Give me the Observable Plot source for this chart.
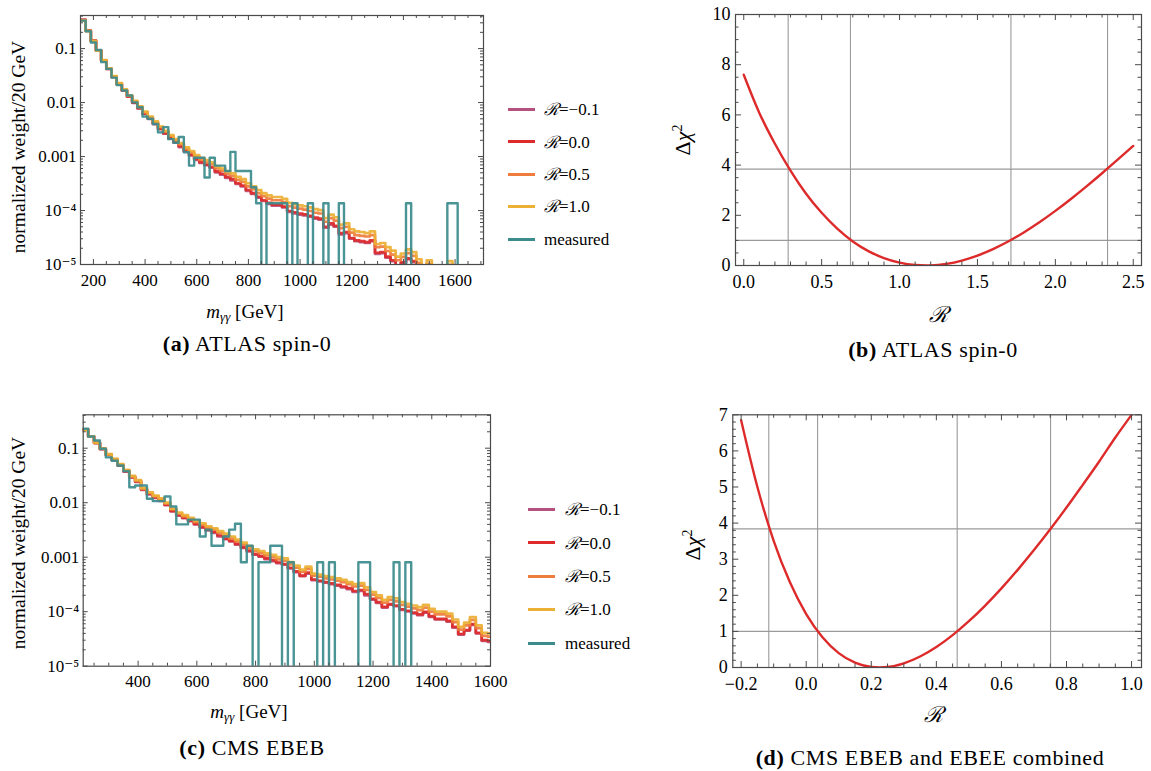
<!DOCTYPE html>
<html><head><meta charset="utf-8">
<script src="https://cdn.jsdelivr.net/npm/d3@7"></script>
<script src="https://cdn.jsdelivr.net/npm/@observablehq/plot@0.6"></script>
<style>
body{margin:0;background:#fff;width:1151px;height:771px;position:relative;overflow:hidden;font-family:"Liberation Serif","DejaVu Serif",serif;color:#000}
.abs{position:absolute;white-space:nowrap;line-height:1}
.c{transform:translate(-50%,-50%)}
.rot{transform:translate(-50%,-50%) rotate(-90deg)}
.cal{font-family:"DejaVu Serif","Liberation Serif",serif;font-style:italic}
.cap{letter-spacing:0.6px}
svg{overflow:visible}
</style></head><body>
<script>
// ---------------- data ----------------
const binWidth = 20;
const atlasEdges = d3.range(150, 1710, 20);   // 150 ... 1690
const cmsEdges = d3.range(210, 1610, 20);     // 210 ... 1590

const atlasRm01 = [0.34,0.215,0.14,0.092,0.060,0.042,0.030,0.0221,0.0167,0.0128,
0.0099,0.0078,0.0062,0.0050,0.0040,0.0032,0.00265,0.00215,0.0018,0.0015,
0.00124,0.00105,0.00087,0.00076,0.00069,0.00062,0.00051,0.00046,0.00040,0.00036,
0.00031,0.00028,0.00023,0.000203,0.000174,0.000150,0.000133,0.000123,0.000123,0.000114,
0.000094,0.000088,0.000084,0.000081,0.000077,0.000071,0.000068,0.000048,0.000055,0.000050,
0.000036,0.000038,0.000030,0.000027,0.000026,0.000025,0.000027,0.0000158,0.0000163,0.0000134,
0.0000115,0.0000091,0.0000105,0.0000125,0.0000110,0.0000081,0.0000057,0.0000079,0.0000048,0.0000043,
0.0000048,0.0000076,0.0000053,0.0000038,0.0000033,0.0000029,0.0000027,0.0000024];
const atlasR00 = [0.34,0.215,0.14,0.092,0.060,0.042,0.030,0.0222,0.0168,0.0129,
0.0100,0.0079,0.0063,0.0051,0.0041,0.0033,0.0027,0.0022,0.00185,0.00155,
0.00128,0.00108,0.00090,0.00079,0.00071,0.00064,0.00053,0.00048,0.00042,0.00038,
0.00032,0.00029,0.00024,0.00021,0.00018,0.000155,0.000138,0.000128,0.000128,0.000118,
0.000098,0.000092,0.000088,0.000085,0.000080,0.000074,0.000071,0.000050,0.000058,0.000052,
0.000038,0.000040,0.000031,0.000028,0.000027,0.000026,0.000028,0.0000165,0.0000170,0.0000140,
0.0000120,0.0000095,0.0000110,0.0000130,0.0000115,0.0000085,0.0000060,0.0000082,0.0000050,0.0000045,
0.0000050,0.0000079,0.0000055,0.0000040,0.0000035,0.0000030,0.0000028,0.0000025];
const atlasR05 = [0.335,0.212,0.139,0.092,0.0605,0.0425,0.0305,0.0226,0.0172,0.0133,
0.0104,0.0082,0.0066,0.0053,0.0043,0.0035,0.0029,0.0024,0.0020,0.00168,
0.00139,0.00118,0.00099,0.00087,0.00079,0.00072,0.00060,0.00055,0.00048,0.00044,
0.00037,0.00034,0.00028,0.00025,0.00021,0.000185,0.000166,0.000155,0.000155,0.000143,
0.000120,0.000113,0.000108,0.000104,0.000098,0.000091,0.000088,0.000062,0.000072,0.000065,
0.000047,0.000050,0.000039,0.000035,0.000034,0.000033,0.000035,0.000021,0.0000215,0.0000178,
0.0000153,0.0000120,0.0000138,0.0000163,0.0000145,0.0000107,0.0000077,0.0000103,0.0000068,0.0000058,
0.0000064,0.0000099,0.0000074,0.0000052,0.0000045,0.0000039,0.0000036,0.0000032];
const atlasR10 = [0.33,0.21,0.138,0.092,0.061,0.043,0.031,0.023,0.0176,0.0136,
0.0107,0.0085,0.0068,0.0055,0.0045,0.0036,0.0030,0.0025,0.0021,0.00178,
0.00148,0.00126,0.00106,0.00094,0.00086,0.00078,0.00066,0.00060,0.00053,0.00049,
0.00042,0.00038,0.00032,0.00028,0.00024,0.00021,0.000190,0.000178,0.000178,0.000165,
0.000138,0.000130,0.000125,0.000120,0.000114,0.000106,0.000102,0.000072,0.000084,0.000075,
0.000055,0.000058,0.000045,0.000041,0.000040,0.000038,0.000041,0.000024,0.000025,0.000021,
0.000018,0.000014,0.000016,0.000019,0.000017,0.0000125,0.0000090,0.0000120,0.0000085,0.0000068,
0.0000075,0.0000115,0.0000090,0.0000060,0.0000052,0.0000045,0.0000042,0.0000038];
const atlasMeasured = [0.33,0.21,0.13,0.094,0.056,0.042,0.029,0.021,0.0167,0.0135,
0.0101,0.0082,0.0055,0.0050,0.0040,0.0028,0.0035,0.0021,0.0018,0.0023,
0.0012,0.00068,0.00095,0.00095,0.00041,0.00095,0.00068,0.00068,0.00054,0.00122,
0.00054,0.00054,0.00054,0.00027,0.000136,0,0.000136,0.000136,0.000136,0.000136,
0,0.000136,0,0,0.000136,0,0,0.000136,0,0,
0.000136,0,0,0,0,0,0,0,0,0,
0,0,0,0.000136,0,0,0,0,0,0,
0,0.000136,0.000136,0,0,0,0,0];

const cmsRm01 = [0.22,0.164,0.124,0.096,0.075,0.061,0.048,0.037,0.029,0.024,
0.0171,0.0142,0.0123,0.0108,0.0090,0.0069,0.0058,0.0052,0.0046,0.0040,
0.0035,0.0031,0.0028,0.0024,0.00215,0.00194,0.0017,0.00148,0.00128,0.00111,
0.00102,0.00092,0.00085,0.00078,0.00073,0.00062,0.00053,0.00045,0.00050,0.00038,
0.00036,0.00034,0.00032,0.00030,0.00028,0.00026,0.00023,0.00024,0.00020,0.000167,
0.000145,0.000119,0.000134,0.000126,0.000108,0.000101,0.000093,0.000086,0.000096,0.000080,
0.000072,0.000072,0.000066,0.000051,0.000038,0.000045,0.000057,0.000040,0.000029,0.000028];
const cmsR00 = [0.22,0.165,0.125,0.097,0.076,0.062,0.049,0.038,0.0295,0.0245,
0.0175,0.0146,0.0126,0.0111,0.0092,0.0071,0.0060,0.0053,0.0047,0.0041,
0.0036,0.0032,0.0029,0.0025,0.0022,0.0020,0.00175,0.00152,0.00132,0.00114,
0.00105,0.00095,0.00088,0.00080,0.00075,0.00064,0.00055,0.00046,0.00052,0.00039,
0.00037,0.00035,0.00033,0.00031,0.00029,0.00027,0.00024,0.00025,0.00021,0.000172,
0.000150,0.000123,0.000138,0.000130,0.000111,0.000104,0.000096,0.000089,0.000099,0.000083,
0.000074,0.000074,0.000068,0.000053,0.000039,0.000046,0.000059,0.000041,0.000030,0.000029];
const cmsR05 = [0.218,0.165,0.1255,0.0975,0.077,0.063,0.050,0.039,0.030,0.0252,
0.0180,0.0151,0.0131,0.0116,0.0096,0.0075,0.0063,0.0056,0.0050,0.0044,
0.0039,0.0035,0.0032,0.0028,0.0025,0.0022,0.00195,0.00170,0.00148,0.00129,
0.00119,0.00108,0.00100,0.00091,0.00086,0.00074,0.00064,0.00054,0.00061,0.00046,
0.00044,0.00041,0.00039,0.00037,0.00035,0.00032,0.00029,0.00030,0.00025,0.000205,
0.000179,0.000147,0.000165,0.000155,0.000133,0.000124,0.000115,0.000107,0.000119,0.000100,
0.000089,0.000089,0.000082,0.000064,0.000047,0.000056,0.000071,0.000050,0.000036,0.000035];
const cmsR10 = [0.215,0.165,0.126,0.098,0.078,0.064,0.051,0.040,0.031,0.026,
0.0185,0.0155,0.0135,0.0120,0.0100,0.0078,0.0066,0.0059,0.0053,0.0047,
0.0042,0.0037,0.0034,0.0030,0.0027,0.0024,0.0021,0.00185,0.0016,0.00140,
0.00130,0.00118,0.00110,0.00100,0.00095,0.00081,0.00070,0.00059,0.00067,0.00050,
0.00048,0.00045,0.00043,0.00041,0.000385,0.00035,0.00032,0.000335,0.00028,0.00023,
0.00020,0.000165,0.000185,0.000175,0.000150,0.000140,0.000130,0.000121,0.000134,0.000113,
0.000100,0.000100,0.000092,0.000072,0.000053,0.000063,0.000080,0.000056,0.000041,0.000040];
const cmsMeasured = [0.227,0.164,0.138,0.0975,0.068,0.059,0.048,0.038,0.0192,0.0207,
0.0207,0.0118,0.0107,0.0107,0.013,0.0085,0.0040,0.0040,0.0049,0.0049,
0.0024,0.0032,0.00162,0.00162,0.0024,0.0032,0.0041,0.00081,0.00162,0,
0.00081,0.00081,0.00162,0.00162,0,0.00081,0,0,0,0,
0.00081,0,0.00081,0,0,0,0,0.00081,0.00081,0,
0,0,0,0.00081,0,0.00081,0,0,0,0,
0,0,0,0,0,0,0,0,0,0];

// Delta chi^2 curves
const atlasChiR = [0.0,0.1,0.2,0.3,0.4,0.5,0.6,0.7,0.8,0.9,1.0,1.1,1.17,1.2,1.3,1.4,1.5,1.6,1.7,1.8,1.9,2.0,2.1,2.2,2.3,2.4,2.5];
const atlasChi  = [7.6,6.08,4.85,3.78,2.86,2.10,1.47,0.96,0.574,0.294,0.112,0.018,0,0.003,0.064,0.197,0.395,0.653,0.965,1.327,1.732,2.176,2.651,3.153,3.676,4.215,4.764];
const atlasCrossR = [0.285,0.685,1.715,2.335];
const cmsChiR = [-0.2,-0.15,-0.1,-0.05,0.0,0.05,0.1,0.15,0.2,0.226,0.25,0.3,0.35,0.4,0.45,0.5,0.55,0.6,0.65,0.7,0.75,0.8,0.85,0.9,0.95,1.0];
const cmsChi  = [6.85,5.0,3.51,2.36,1.48,0.838,0.398,0.133,0.014,0,0.0127,0.114,0.304,0.568,0.897,1.282,1.716,2.192,2.705,3.252,3.828,4.43,5.06,5.70,6.37,7.0];
const cmsCrossR = [-0.115,0.035,0.464,0.751];
const chiLevels = [1, 3.84];

const seriesNames = ["ℛ=−0.1","ℛ=0.0","ℛ=0.5","ℛ=1.0","measured"];
const seriesColors = ["#b5517d","#dd2b2b","#ee7c3c","#ecb034","#3c8b8d"];

// ---------------- helpers ----------------
const FONT = "'Liberation Serif', 'DejaVu Serif', serif";
const FRAME = "#4a4a4a";

function place(node, left, top) {
  const d = document.createElement("div");
  d.style.cssText = `position:absolute;left:${left}px;top:${top}px`;
  d.appendChild(node);
  document.body.appendChild(d);
}
function text(html, x, y, cls, size, extra = "") {
  const d = document.createElement("div");
  d.className = "abs " + cls;
  d.style.cssText = `left:${x}px;top:${y}px;font-size:${size}px;${extra}`;
  d.innerHTML = html;
  document.body.appendChild(d);
}
function steps(edges, values) {
  const pts = edges.map((e, i) => ({x: e, y: values[i] > 0 ? values[i] : 1e-9}));
  const last = pts[pts.length - 1];
  pts.push({x: last.x + binWidth, y: last.y});
  return pts;
}
function frameTicks(W, H, m, xMaj, xMin, yMaj, yMin, maj, min) {
  const fw = W - m.left - m.right, fh = H - m.top - m.bottom;
  const o = {stroke: FRAME, strokeWidth: 1};
  return [
    Plot.tickX(xMaj, {x: d => d, insetTop: fh - maj, ...o}),
    Plot.tickX(xMaj, {x: d => d, insetBottom: fh - maj, ...o}),
    Plot.tickX(xMin, {x: d => d, insetTop: fh - min, ...o}),
    Plot.tickX(xMin, {x: d => d, insetBottom: fh - min, ...o}),
    Plot.tickY(yMaj, {y: d => d, insetRight: fw - maj, ...o}),
    Plot.tickY(yMaj, {y: d => d, insetLeft: fw - maj, ...o}),
    Plot.tickY(yMin, {y: d => d, insetRight: fw - min, ...o}),
    Plot.tickY(yMin, {y: d => d, insetLeft: fw - min, ...o})
  ];
}
const logLabels = {"0.1": "0.1", "0.01": "0.01", "0.001": "0.001", "0.0001": "10⁻⁴", "0.00001": "10⁻⁵"};

function histPanel(edges, series, xDomain, xMaj, xMin, W, H, m) {
  const yTop = 0.41;
  const yMaj = [1e-5, 1e-4, 1e-3, 1e-2, 1e-1];
  const yMin = [];
  for (const p of [1e-5, 1e-4, 1e-3, 1e-2, 1e-1]) for (let k = 2; k <= 9; k++) if (p * k < yTop) yMin.push(p * k);
  const lines = series.map((vals, i) => Plot.line(steps(edges, vals), {
    x: "x", y: "y", curve: "step-after", stroke: seriesColors[i],
    strokeWidth: i === 4 ? 2.4 : 2.7, strokeOpacity: 0.92, clip: true
  }));
  return Plot.plot({
    width: W, height: H,
    marginLeft: m.left, marginRight: m.right, marginTop: m.top, marginBottom: m.bottom,
    x: {domain: xDomain},
    y: {type: "log", domain: [1e-5, yTop]},
    style: {fontFamily: FONT, fontSize: "17px", color: "#000", background: "none", overflow: "visible"},
    marks: [
      ...lines,
      ...frameTicks(W, H, m, xMaj, xMin, yMaj, yMin, 5, 3),
      Plot.frame({stroke: FRAME, strokeWidth: 1.2}),
      Plot.axisX({ticks: xMaj, tickSize: 0, tickPadding: 9, label: null, tickFormat: d => String(d), fontSize: 17}),
      Plot.axisY({ticks: yMaj, tickSize: 0, tickPadding: 4, label: null, tickFormat: d => logLabels[String(d)], fontSize: 17})
    ]
  });
}

function chiPanel(R, chi, cross, xDomain, yDomain, xMaj, xMin, yMaj, yMin, W, H, m, fmtX) {
  return Plot.plot({
    width: W, height: H,
    marginLeft: m.left, marginRight: m.right, marginTop: m.top, marginBottom: m.bottom,
    x: {domain: xDomain},
    y: {domain: yDomain},
    style: {fontFamily: FONT, fontSize: "17px", color: "#000", background: "none", overflow: "visible"},
    marks: [
      Plot.ruleX(cross, {stroke: "#9a9a9a", strokeWidth: 1.1}),
      Plot.ruleY(chiLevels, {stroke: "#9a9a9a", strokeWidth: 1.1}),
      Plot.line(R.map((r, i) => ({r, c: chi[i]})), {x: "r", y: "c", curve: "monotone-x", stroke: "#dd2b2b", strokeWidth: 2.4, clip: true}),
      ...frameTicks(W, H, m, xMaj, xMin, yMaj, yMin, 6, 3.5),
      Plot.frame({stroke: FRAME, strokeWidth: 1.2}),
      Plot.axisX({ticks: xMaj, tickSize: 0, tickPadding: 10, label: null, tickFormat: fmtX, fontSize: 18}),
      Plot.axisY({ticks: yMaj, tickSize: 0, tickPadding: 5, label: null, tickFormat: d => String(d), fontSize: 18})
    ]
  });
}
const near = (a, list) => list.some(b => Math.abs(a - b) < 1e-9);

// ---------------- panel (a) ----------------
{
  const m = {left: 80, right: 7, top: 15, bottom: 31};
  const xMaj = d3.range(200, 1701, 200);
  const xMin = d3.range(200, 1701, 50).filter(v => v % 200 !== 0);
  place(histPanel(atlasEdges, [atlasRm01, atlasR00, atlasR05, atlasR10, atlasMeasured],
    [150, 1710], xMaj, xMin, 490, 295, m), 0, 0);
}
// ---------------- panel (c) ----------------
{
  const m = {left: 82.7, right: 10, top: 24.3, bottom: 29.3};
  const xMaj = d3.range(400, 1601, 200);
  const xMin = d3.range(250, 1600, 50).filter(v => v % 200 !== 0);
  place(histPanel(cmsEdges, [cmsRm01, cmsR00, cmsR05, cmsR10, cmsMeasured],
    [213, 1600], xMaj, xMin, 500, 305, m), 0, 390);
}
// ---------------- panel (b) ----------------
{
  const m = {left: 45, right: 10, top: 14, bottom: 30};
  const xMaj = [0, 0.5, 1, 1.5, 2, 2.5];
  const xMin = d3.range(0, 2.55, 0.1).map(v => +v.toFixed(2)).filter(v => !near(v, xMaj));
  const yMaj = [0, 2, 4, 6, 8, 10];
  const yMin = d3.range(0.5, 10, 0.5).filter(v => !near(v, yMaj));
  place(chiPanel(atlasChiR, atlasChi, atlasCrossR, [-0.053, 2.553], [0, 10], xMaj, xMin, yMaj, yMin,
    461, 295, m, d => d.toFixed(1)), 690, 0);
}
// ---------------- panel (d) ----------------
{
  const m = {left: 42.3, right: 10, top: 24.3, bottom: 28};
  const xMaj = [-0.2, 0, 0.2, 0.4, 0.6, 0.8, 1.0];
  const xMin = d3.range(-0.2, 1.02, 0.05).map(v => +v.toFixed(2)).filter(v => !near(v, xMaj));
  const yMaj = [0, 1, 2, 3, 4, 5, 6, 7];
  const yMin = d3.range(0.2, 7, 0.2).map(v => +v.toFixed(2)).filter(v => !near(v, yMaj));
  place(chiPanel(cmsChiR, cmsChi, cmsCrossR, [-0.2256, 1.0305], [0, 7], xMaj, xMin, yMaj, yMin,
    461, 305, m, d => (d < 0 ? "−" : "") + Math.abs(d).toFixed(1)), 690, 390);
}

// ---------------- legends ----------------
function legend(lineX, textX, ys) {
  seriesNames.forEach((name, i) => {
    const l = document.createElement("div");
    l.style.cssText = `position:absolute;left:${lineX}px;top:${ys[i] - 1.5}px;width:27px;height:3px;background:${seriesColors[i]}`;
    document.body.appendChild(l);
    const html = name.startsWith("ℛ") ? `<span class="cal">ℛ</span>${name.slice(1)}` : name;
    text(html, textX, ys[i], "", 17, "transform:translateY(-50%)");
  });
}
legend(508, 544, [109, 141.7, 174, 206.3, 239]);
legend(528, 565, [509, 542.7, 576, 609.3, 643.3]);

// ---------------- axis titles & captions ----------------
const mgg = `<i>m</i><sub style="font-size:13px;vertical-align:-3px"><i>γγ</i></sub> [GeV]`;
text(mgg, 245, 312, "c", 19);
text(mgg, 249, 712, "c", 19);
text("normalized weight/20 GeV", 19, 147, "rot", 19.5);
text("normalized weight/20 GeV", 19, 543, "rot", 19.5);
const dchi = `Δ<i>χ</i><sup style="font-size:14px;vertical-align:8px">2</sup>`;
text(dchi, 682, 140, "rot", 22);
text(dchi, 692, 545, "rot", 22);
text(`<span class="cal">ℛ</span>`, 938, 315, "c", 22);
text(`<span class="cal">ℛ</span>`, 933, 715, "c", 22);
text(`<b>(a)</b> ATLAS spin-0`, 247, 344, "c cap", 22);
text(`<b>(b)</b> ATLAS spin-0`, 933, 350, "c cap", 22);
text(`<b>(c)</b> CMS EBEB`, 252, 748, "c cap", 22);
text(`<b>(d)</b> CMS EBEB and EBEE combined`, 930, 758, "c cap", 22);
</script>
</body></html>
